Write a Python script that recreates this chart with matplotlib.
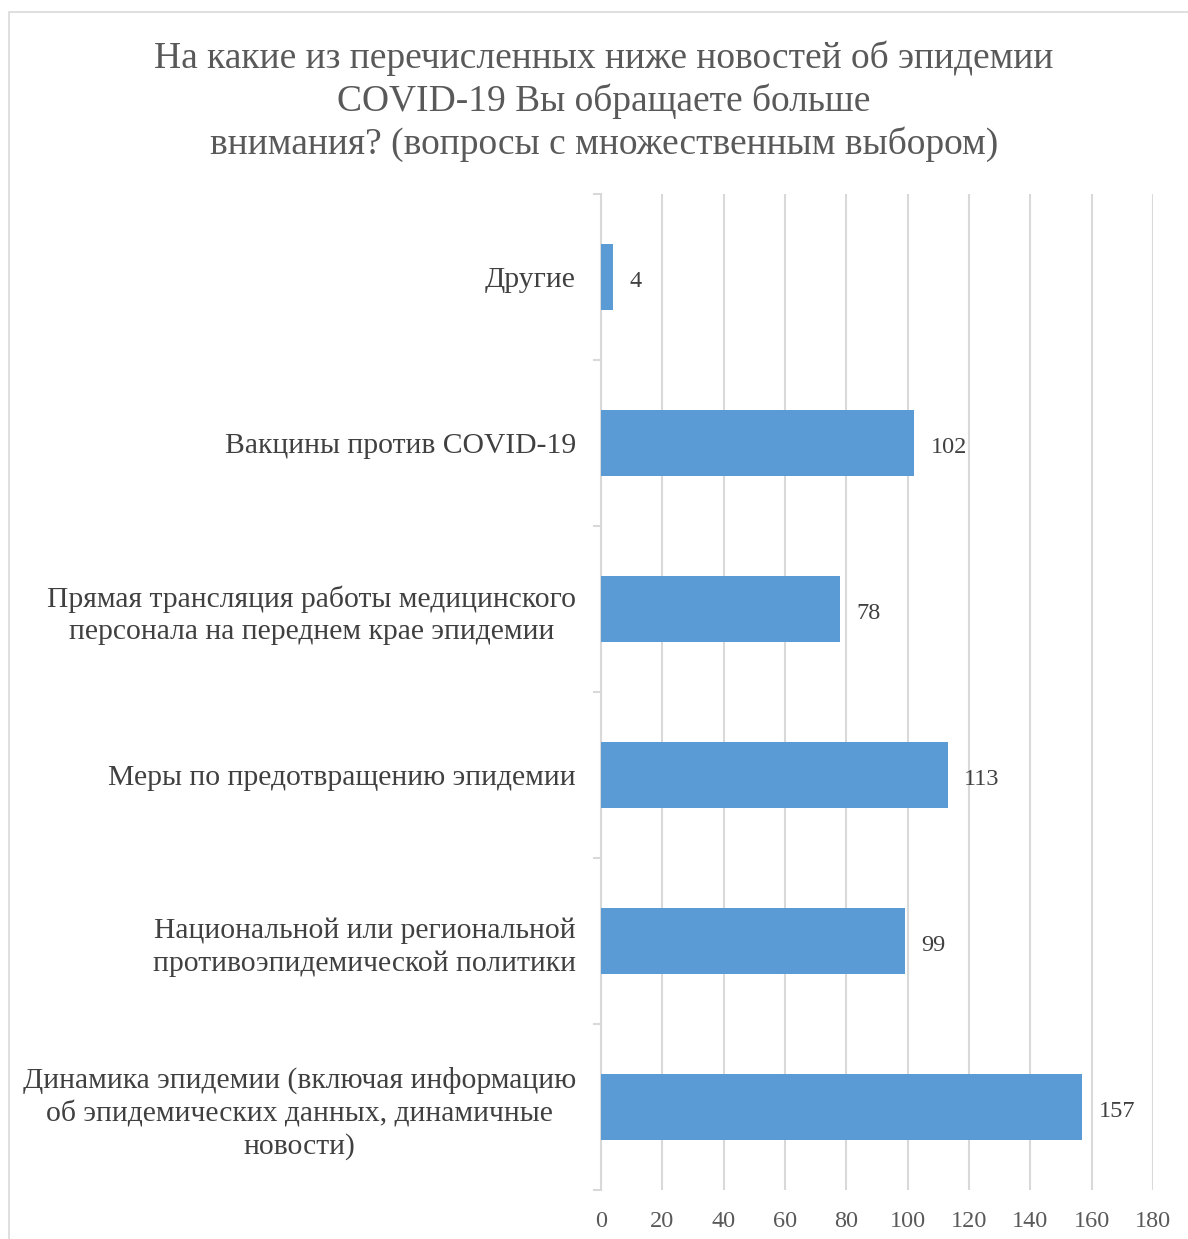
import matplotlib
matplotlib.use('Agg')
import matplotlib.pyplot as plt
from matplotlib.patches import Rectangle

plt.rcParams['font.family'] = ['Liberation Serif', 'DejaVu Serif']

# categories listed bottom to top, as on the chart
categories = [
    'Динамика эпидемии (включая информацию\nоб эпидемических данных, динамичные\nновости)',
    'Национальной или региональной\nпротивоэпидемической политики',
    'Меры по предотвращению эпидемии',
    'Прямая трансляция работы медицинского\nперсонала на переднем крае эпидемии',
    'Вакцины против COVID-19',
    'Другие',
]
counts = [157, 99, 113, 78, 102, 4]
xticks = [0, 20, 40, 60, 80, 100, 120, 140, 160, 180]

title = ('На какие из перечисленных ниже новостей об эпидемии\n'
         'COVID-19 Вы обращаете больше\n'
         'внимания? (вопросы с множественным выбором)')

W, H = 1188, 1239
fig = plt.figure(figsize=(W / 100, H / 100), dpi=100)

# outer chart frame
fig.patches.append(Rectangle((9 / W, -0.1), 1.2, 1 - 12 / H + 0.1,
                             transform=fig.transFigure, fill=False,
                             edgecolor='#D9D9D9', linewidth=1.2))

left, right, top, bottom = 601, 1153, 194, 1190
ax = fig.add_axes([left / W, 1 - bottom / H, (right - left) / W, (bottom - top) / H])

bar_color = '#5B9BD5'
y = range(len(categories))
ax.barh(y, counts, height=0.4, color=bar_color, zorder=3)

for yi, v in zip(y, counts):
    ax.annotate(str(v), xy=(v, yi), xytext=(12, -3), textcoords='offset points',
                ha='left', va='center', fontsize=17.5, color='#404040')

ax.set_xlim(0, 180)
ax.set_ylim(-0.5, len(categories) - 0.5)
ax.set_xticks(xticks)
ax.set_xticklabels([str(t) for t in xticks])
ax.set_yticks(y)
ax.set_yticklabels(categories, multialignment='center', linespacing=1.3)
ax.set_yticks([i - 0.5 for i in range(len(categories) + 1)], minor=True)

ax.grid(axis='x', color='#D9D9D9', linewidth=1.5, zorder=0)
ax.set_axisbelow(True)

for s in ['top', 'right', 'bottom']:
    ax.spines[s].set_visible(False)
ax.spines['left'].set_color('#D9D9D9')
ax.spines['left'].set_linewidth(1.5)

ax.tick_params(axis='x', length=0, pad=15, labelsize=17.5, labelcolor='#595959')
ax.tick_params(axis='y', which='major', length=0, pad=18, labelsize=21.3, labelcolor='#404040')
ax.tick_params(axis='y', which='minor', length=6, width=1.5, color='#D9D9D9')

fig.text(604 / W, 1 - 41 / H, title, ha='center', va='top', fontsize=27,
         color='#595959', linespacing=1.26)

fig.savefig('out.png', dpi=100, facecolor='white')
